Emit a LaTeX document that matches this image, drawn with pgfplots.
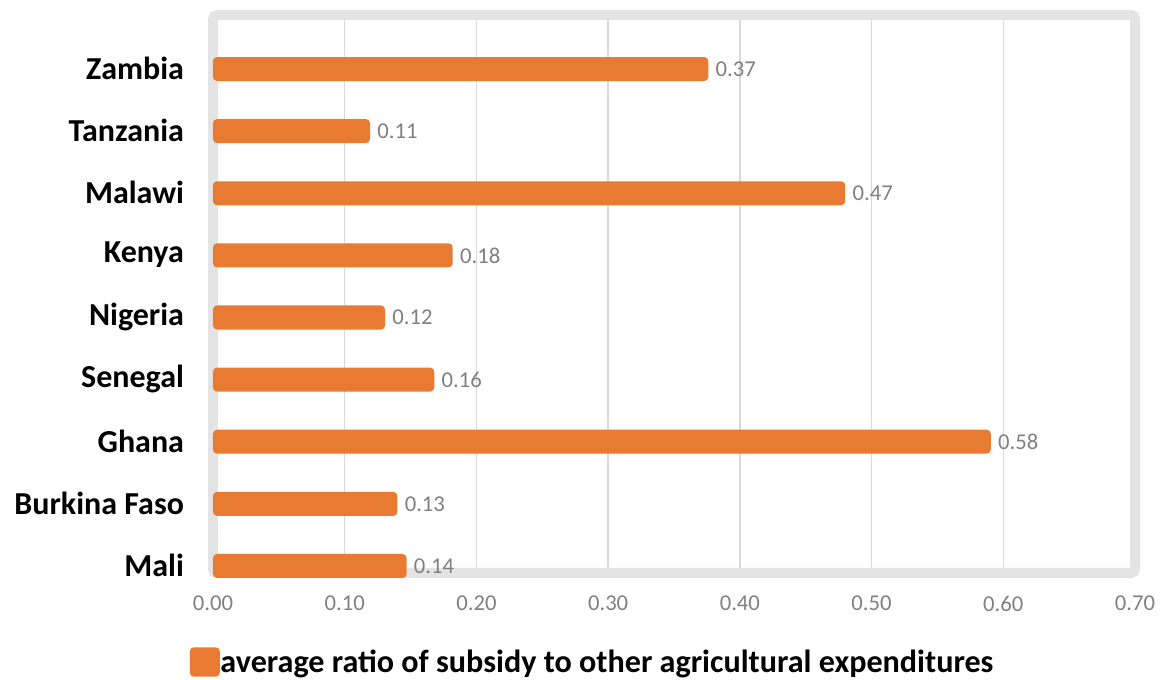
\documentclass[border=0pt]{standalone}
\usepackage{pgfplots}
\pgfplotsset{compat=1.18}
\usepackage{pgfplotstable}
\usepackage{fontspec}
\setmainfont{Carlito}
\definecolor{barc}{HTML}{E87B31}
\definecolor{framec}{HTML}{E4E4E4}
\definecolor{gridc}{HTML}{D9D9D9}
\definecolor{tickc}{HTML}{808080}
\pgfplotstableread{
pos val label
0 0.147 0.14
1 0.140 0.13
2 0.5905 0.58
3 0.168 0.16
4 0.1306 0.12
5 0.182 0.18
6 0.480 0.47
7 0.1192 0.11
8 0.376 0.37
}\data
\begin{document}
\begin{tikzpicture}
\begin{axis}[
  set layers,
  at={(0,0)}, anchor=south west,
  scale only axis, width=691.5pt, height=418.5pt,
  xbar, bar width=18pt,
  xmin=0, xmax=0.7, ymin=-0.113, ymax=8.87,
  clip=false,
  xtick={0,0.1,...,0.71},
  xticklabel={\pgfmathprintnumber[fixed,fixed zerofill,precision=2]{\tick}},
  ytick={0,...,8},
  yticklabels={Mali,Burkina Faso,Ghana,Senegal,Nigeria,Kenya,Malawi,Tanzania,Zambia},
  major tick length=0pt,
  xmajorgrids, ymajorgrids=false,
  grid style={gridc, line width=1pt},
  axis line style={framec, line width=7.5pt, rounded corners=3pt},
  xticklabel style={font=\fontsize{17}{20}\selectfont, text=tickc, yshift=-13.5pt},
  yticklabel style={font=\bfseries\fontsize{24}{28}\selectfont, text=black, xshift=-18.25pt, yshift=0.5pt},
  /pgf/number format/assume math mode=true,
  nodes near coords,
  point meta=explicit symbolic,
  nodes near coords style={anchor=west, font=\fontsize{17}{20}\selectfont, text=tickc, xshift=2pt},
  legend style={at={(rel axis cs:0.411,-0.1595)}, anchor=center, draw=none, fill=none,
    font=\bfseries\fontsize{24.1}{28}\selectfont, nodes={inner xsep=0.5pt}},
  legend image code/.code={\fill[barc, rounded corners=3pt] (0pt,-11pt) rectangle (22.5pt,11pt);},
]
\addplot[fill=barc, draw=none, rounded corners=3pt] table[x=val, y=pos, meta=label]{\data};
\addlegendentry{average ratio of subsidy to other agricultural expenditures}
\end{axis}
\pgfresetboundingbox
\path[use as bounding box] (-159.75pt,-80.25pt) rectangle (710.25pt,429.75pt);
\end{tikzpicture}
\end{document}
